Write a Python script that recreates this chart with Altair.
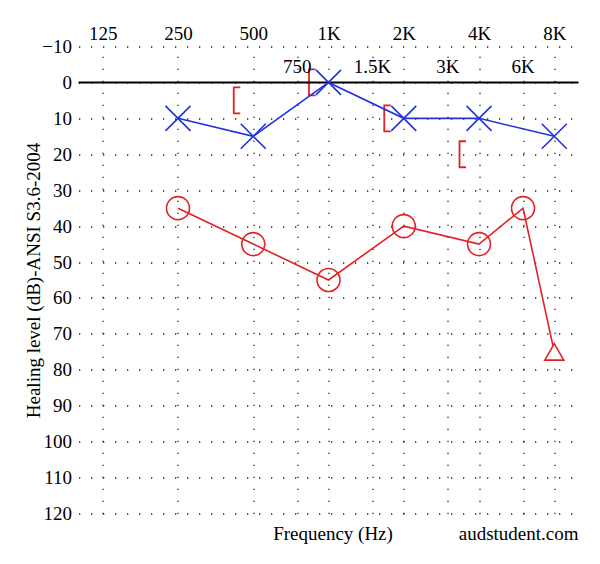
import altair as alt
import pandas as pd

# ---- data -------------------------------------------------------------
top_freqs = [125, 250, 500, 1000, 2000, 4000, 8000]
top_labels = ["125", "250", "500", "1K", "2K", "4K", "8K"]
mid_freqs = [750, 1500, 3000, 6000]
mid_labels = ["750", "1.5K", "3K", "6K"]
grid_freqs = [125, 250, 500, 750, 1000, 1500, 2000, 3000, 4000, 6000, 8000]
db_ticks = [-10, 0, 10, 20, 30, 40, 50, 60, 70, 80, 90, 100, 110, 120]

left_freqs = [250, 500, 1000, 2000, 4000, 8000]
left_db = [10, 15, 0, 10, 10, 15]

right_freqs = [250, 500, 1000, 2000, 4000, 6000, 8000]
right_db = [35, 45, 55, 40, 45, 35, 75]
right_symbol = ["circle", "circle", "circle", "circle", "circle", "circle", "triangle"]

bone_freqs = [500, 1000, 2000, 4000]
bone_db = [5, 0, 10, 20]

watermark = ["audstudent.com"]

# ---- styling ------------------------------------------------------------
FONT = "Liberation Serif"
FS = 19
BLUE = "#2233dd"
RED = "#e22126"
W, H = 500, 467

X_PATH = "M-1,-1L1,1M-1,1L1,-1"
TRI_PATH = "M0,-0.87L1,0.87L-1,0.87Z"
BRACKET_PATH = "M-1,-1L-1.5,-1L-1.5,1L-1,1"

label_expr = " : ".join(
    [f"datum.value == {f} ? '{l}'" for f, l in zip(top_freqs, top_labels)] + ["''"]
)

xs = alt.Scale(type="log", domain=[100, 10000], nice=False)
ys = alt.Scale(domain=[-10, 120], reverse=True, nice=False, zero=False)

grid_style = dict(gridDash=[1.3, 10.7], gridColor="#222222", gridWidth=1.3, gridOpacity=1)

top_axis = alt.Axis(
    orient="top", values=top_freqs, labelExpr=label_expr, labelFont=FONT,
    labelFontSize=FS, labelColor="black", labelPadding=7,
    labelBaseline="alphabetic", labelAngle=0, ticks=False, domain=False,
    grid=False, title=None,
)
bottom_axis = alt.Axis(
    orient="bottom", values=grid_freqs, labels=False, ticks=False, domain=False,
    grid=True, title="Frequency (Hz)", titleFont=FONT, titleFontSize=FS,
    titleFontWeight="normal", titleColor="black", titleY=26,
    titleBaseline="alphabetic", titleX=254, **grid_style,
)
y_axis = alt.Axis(
    orient="left", values=db_ticks, format="d", ticks=False, domain=False, grid=True,
    labelFont=FONT, labelFontSize=FS, labelColor="black", labelPadding=7,
    title="Healing level (dB)-ANSI S3.6-2004", titleFont=FONT,
    titleFontSize=FS, titleFontWeight="normal", titleColor="black",
    titleX=-39, titleBaseline="alphabetic", **grid_style,
)


def Y(field):
    return alt.Y(field, scale=ys, axis=y_axis)


left_df = pd.DataFrame({"freq": left_freqs, "db": left_db})
right_df = pd.DataFrame({"freq": right_freqs, "db": right_db, "sym": right_symbol})
bone_df = pd.DataFrame({"freq": bone_freqs, "db": bone_db})
mid_df = pd.DataFrame({"freq": mid_freqs, "label": mid_labels})
wm_df = pd.DataFrame({"t": watermark})

# bone conduction brackets, hosting the bottom axis (vertical grid + title)
bone = alt.Chart(bone_df).mark_point(
    shape=BRACKET_PATH, filled=False, stroke=RED, strokeWidth=1.8, size=676, opacity=1
).encode(
    x=alt.X("freq:Q", scale=xs, axis=bottom_axis),
    y=Y("db:Q"),
)

zero_line = alt.Chart(bone_df).transform_aggregate(
    n="count()"
).transform_calculate(v="0").mark_rule(
    color="black", strokeWidth=2
).encode(y=Y("v:Q"))

mid_text = alt.Chart(mid_df).transform_calculate(v="0").mark_text(
    font=FONT, fontSize=FS, baseline="alphabetic", align="center", dy=-9, color="black"
).encode(
    x=alt.X("freq:Q", scale=xs, axis=None),
    y=Y("v:Q"),
    text="label:N",
)

left_line = alt.Chart(left_df).mark_line(color=BLUE, strokeWidth=1.6).encode(
    x=alt.X("freq:Q", scale=xs, axis=top_axis),
    y=Y("db:Q"),
)
left_pts = alt.Chart(left_df).mark_point(
    shape=X_PATH, filled=False, stroke=BLUE, strokeWidth=1.6, size=625, opacity=1
).encode(
    x=alt.X("freq:Q", scale=xs, axis=None),
    y=Y("db:Q"),
)

right_line = alt.Chart(right_df).mark_line(color=RED, strokeWidth=1.6).encode(
    x=alt.X("freq:Q", scale=xs, axis=None),
    y=Y("db:Q"),
)
right_circ = alt.Chart(right_df).transform_filter(
    alt.datum.sym == "circle"
).mark_point(
    shape="circle", filled=False, stroke=RED, strokeWidth=1.6, size=529, opacity=1
).encode(
    x=alt.X("freq:Q", scale=xs, axis=None),
    y=Y("db:Q"),
)
right_tri = alt.Chart(right_df).transform_filter(
    alt.datum.sym == "triangle"
).mark_point(
    shape=TRI_PATH, filled=True, fill="white", stroke=RED, strokeWidth=1.6,
    size=361, opacity=1, fillOpacity=1
).encode(
    x=alt.X("freq:Q", scale=xs, axis=None),
    y=Y("db:Q"),
)

wm = alt.Chart(wm_df).mark_text(
    font=FONT, fontSize=FS, align="right", baseline="alphabetic", color="black"
).encode(x=alt.value(W), y=alt.value(H + 26), text="t:N")

chart = alt.layer(
    bone, zero_line, mid_text, left_line, left_pts, right_line, right_circ, right_tri, wm
).properties(
    width=W, height=H,
    autosize=alt.AutoSizeParams(type="none"),
    padding={"left": 70.5, "top": 38.5, "right": 13.5, "bottom": 38},
).configure_view(strokeWidth=0)

chart.save("out.html", embed_options={"renderer": "svg", "actions": False})
